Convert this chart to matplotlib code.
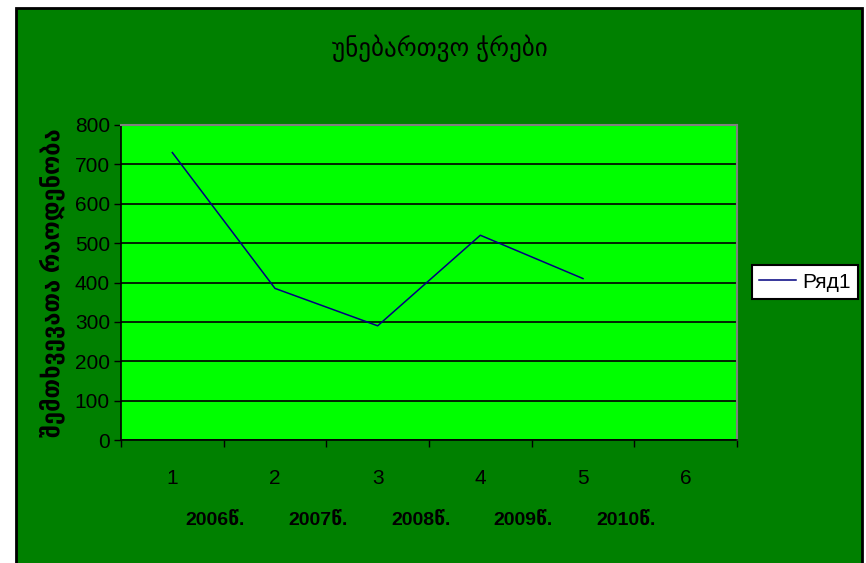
import matplotlib.pyplot as plt
from matplotlib.patches import Rectangle
from matplotlib.transforms import blended_transform_factory

plt.rcParams['font.family'] = ['Liberation Sans', 'DejaVu Sans']

categories = [1, 2, 3, 4, 5]
values = [730, 385, 290, 520, 410]
cat_labels = ['1', '2', '3', '4', '5', '6']
year_labels = ['2006წ.', '2007წ.', '2008წ.', '2009წ.', '2010წ.']
title = 'უნებართვო ჭრები'
ylabel = 'შემთხვევათა რაოდენობა'

W, H = 866, 563
fig = plt.figure(figsize=(W / 100, H / 100), dpi=100, facecolor='white')

# dark green chart area with black frame (runs off the bottom edge)
fig.patches.append(Rectangle((16 / W, -10 / H), (862 - 16) / W, (563 + 10 - 8) / H,
                             transform=fig.transFigure, facecolor='#008000',
                             edgecolor='black', linewidth=2, zorder=-10))

ax = fig.add_axes([121 / W, 1 - 440 / H, (737 - 121) / W, (440 - 125) / H])
ax.set_facecolor('#00FF00')

ax.plot(categories, values, color='#000080', linewidth=1.1, label='Ряд1')

ax.set_xlim(0.5, 6.5)
ax.set_ylim(0, 800)
ax.set_yticks(range(0, 801, 100))
ax.yaxis.grid(True, color='black', linewidth=1.2)
ax.set_axisbelow(True)

ax.set_xticks([i + 0.5 for i in range(7)])
ax.set_xticklabels([])
ax.set_xticks(range(1, 7), minor=True)
ax.set_xticklabels(cat_labels, minor=True)
ax.tick_params(axis='x', which='major', direction='out', length=5, width=1, color='black')
ax.tick_params(axis='x', which='minor', length=0, pad=21, labelsize=15)
ax.tick_params(axis='y', direction='out', length=5, width=1, labelsize=15, pad=3)

for s in ['top', 'right']:
    ax.spines[s].set_color('#808080')
    ax.spines[s].set_linewidth(1.5)
for s in ['left', 'bottom']:
    ax.spines[s].set_color('black')
    ax.spines[s].set_linewidth(1.2)

trans = blended_transform_factory(ax.transData, ax.transAxes)
for i, lab in enumerate(year_labels):
    ax.text(i + 1.42, -0.26, lab, transform=trans, ha='center', va='center',
            fontsize=14, fontweight='bold')

ax.set_ylabel(ylabel, fontsize=17, fontweight='bold', labelpad=7)

fig.text(440 / W, 1 - 48 / H, title, ha='center', va='center', fontsize=18,
         fontweight='medium')

leg = ax.legend(loc='center', bbox_to_anchor=(805 / W, 1 - 282 / H),
                bbox_transform=fig.transFigure, fancybox=False, framealpha=1,
                edgecolor='black', fontsize=15, handlelength=1.8,
                borderpad=0.35, handletextpad=0.3)
leg.get_frame().set_linewidth(1.5)

fig.savefig('out.png', dpi=100, facecolor='white')
